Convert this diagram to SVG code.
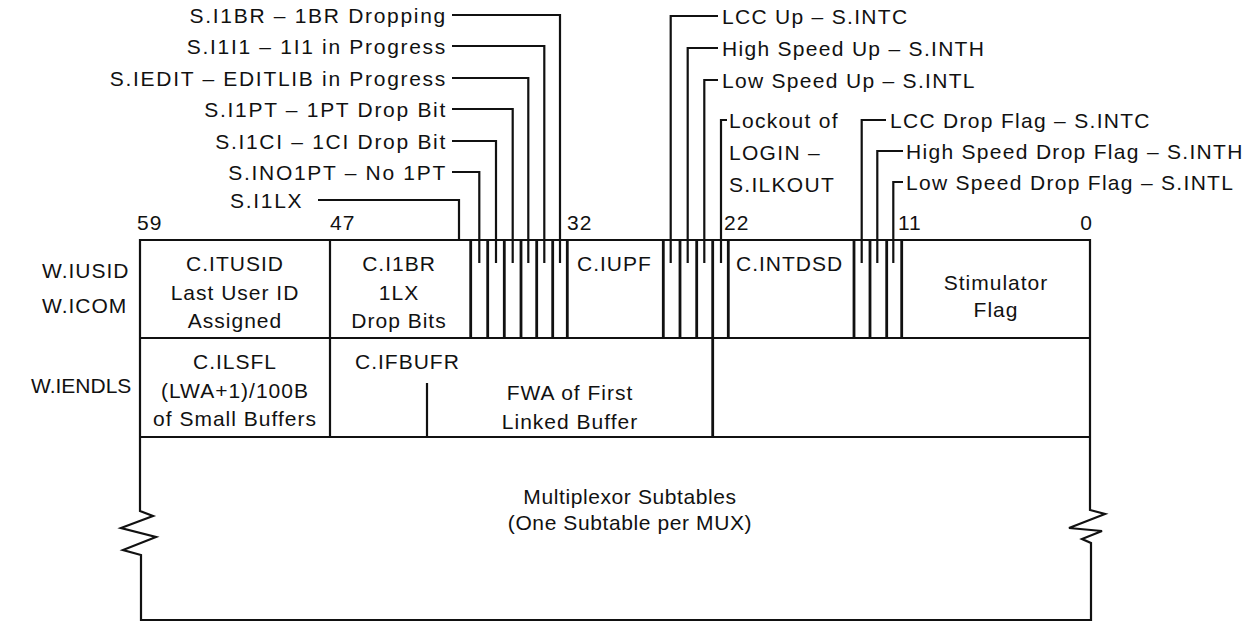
<svg xmlns="http://www.w3.org/2000/svg" width="1255" height="635" viewBox="0 0 1255 635">
<style>
text { font-family: "Liberation Sans", Arial, sans-serif; font-size: 21px; fill: #111; letter-spacing: 1px; }
.c { text-anchor: middle; }
.e { text-anchor: end; }
.lbl { letter-spacing: 1.3px; }
.lft { letter-spacing: 1.7px; }
.ln { stroke: #111; stroke-width: 2.2; fill: none; }
.tk { stroke: #111; stroke-width: 2.8; fill: none; }
</style>
<rect width="1255" height="635" fill="#fff"/>

<g id="table">
  <path class="ln" d="M140,240 H1090 V510 L1105,514 L1069,528 L1102,531 L1082,539 L1091,543 V620 H141 V555 L123,550 L156,537 L121,528 L153,516 L140,511 Z"/>
  <line class="ln" x1="140" y1="338" x2="1090" y2="338"/>
  <line class="ln" x1="140" y1="437" x2="1090" y2="437"/>
  <line class="ln" x1="330" y1="240" x2="330" y2="437"/>
</g>

<g id="bit-numbers">
  <text x="137" y="230">59</text>
  <text x="330" y="230">47</text>
  <text x="567" y="230">32</text>
  <text x="724" y="230">22</text>
  <text x="898" y="230">11</text>
  <text x="1093" y="230" class="e">0</text>
</g>

<g id="row-labels">
  <text x="42" y="278">W.IUSID</text>
  <text x="42" y="313">W.ICOM</text>
  <text x="31" y="393" style="letter-spacing:0">W.IENDLS</text>
</g>

<g id="C.ITUSID">
  <text x="235" y="271" class="c">C.ITUSID</text>
  <text x="235" y="300" class="c">Last User ID</text>
  <text x="235" y="328" class="c">Assigned</text>
</g>
<g id="C.I1BR">
  <text x="399" y="271" class="c">C.I1BR</text>
  <text x="399" y="300" class="c">1LX</text>
  <text x="399" y="328" class="c">Drop Bits</text>
</g>
<g id="bits-38-33">
  <path class="tk" d="M470.7,240V338 M487.7,240V338 M504.3,240V338 M521,240V338 M536.7,240V338 M552.7,240V338 M567.3,240V338"/>
</g>
<g id="C.IUPF">
  <text x="577" y="271">C.IUPF</text>
</g>
<g id="bits-27-23">
  <path class="tk" d="M663.3,240V338 M680,240V338 M696.7,240V338 M712.7,240V437 M728.3,240V338"/>
</g>
<g id="C.INTDSD">
  <text x="736" y="271">C.INTDSD</text>
</g>
<g id="bits-14-12">
  <path class="tk" d="M854,240V338 M870,240V338 M886.7,240V338 M901.7,240V338"/>
</g>
<g id="stimulator">
  <text x="996" y="290" class="c">Stimulator</text>
  <text x="996" y="317" class="c">Flag</text>
</g>
<g id="C.ILSFL">
  <text x="235" y="369" class="c">C.ILSFL</text>
  <text x="235" y="398" class="c">(LWA+1)/100B</text>
  <text x="235" y="426" class="c">of Small Buffers</text>
</g>
<g id="C.IFBUFR">
  <text x="355" y="369">C.IFBUFR</text>
  <line class="ln" x1="427" y1="383" x2="427" y2="437"/>
  <text x="570" y="400" class="c">FWA of First</text>
  <text x="570" y="429" class="c">Linked Buffer</text>
</g>
<g id="mux">
  <text x="630" y="504" class="c" style="letter-spacing:0.6px">Multiplexor Subtables</text>
  <text x="630" y="530" class="c" style="letter-spacing:0.6px">(One Subtable per MUX)</text>
</g>

<g id="field-labels">
  <text x="447" y="23" class="e lft">S.I1BR – 1BR Dropping</text>
  <text x="447" y="54" class="e lft">S.I1I1 – 1I1 in Progress</text>
  <text x="447" y="86" class="e lft">S.IEDIT – EDITLIB in Progress</text>
  <text x="447" y="117" class="e lft">S.I1PT – 1PT Drop Bit</text>
  <text x="447" y="149" class="e lft">S.I1CI – 1CI Drop  Bit</text>
  <text x="447" y="180" class="e lft">S.INO1PT – No 1PT</text>
  <text x="230" y="208" class="lft">S.I1LX</text>
  <text x="722" y="24" class="lbl">LCC Up – S.INTC</text>
  <text x="722" y="56" class="lbl">High Speed Up – S.INTH</text>
  <text x="722" y="88" class="lbl">Low Speed Up – S.INTL</text>
  <text x="729" y="128" class="lbl">Lockout of</text>
  <text x="729" y="160" class="lbl">LOGIN –</text>
  <text x="729" y="192" class="lbl">S.ILKOUT</text>
  <text x="890" y="128" class="lbl">LCC Drop Flag – S.INTC</text>
  <text x="906" y="159" class="lbl">High Speed Drop Flag – S.INTH</text>
  <text x="906" y="190" class="lbl">Low Speed Drop Flag – S.INTL</text>
</g>

<g id="connectors">
  <polyline class="ln" points="452,15 560,15 560,263"/>
  <polyline class="ln" points="452,46 544.3,46 544.3,263"/>
  <polyline class="ln" points="452,78 528.3,78 528.3,263"/>
  <polyline class="ln" points="452,109 512.7,109 512.7,263"/>
  <polyline class="ln" points="452,141 496,141 496,263"/>
  <polyline class="ln" points="452,172 479.3,172 479.3,263"/>
  <polyline class="ln" points="318,200 459,200 459,240"/>
  <polyline class="ln" points="718,16 670.7,16 670.7,263"/>
  <polyline class="ln" points="718,48 687.7,48 687.7,263"/>
  <polyline class="ln" points="718,80 704.3,80 704.3,263"/>
  <polyline class="ln" points="727,120 721,120 721,263"/>
  <polyline class="ln" points="886,120 861.7,120 861.7,263"/>
  <polyline class="ln" points="903,151 877.3,151 877.3,263"/>
  <polyline class="ln" points="903,182 893.3,182 893.3,263"/>
</g>
</svg>
